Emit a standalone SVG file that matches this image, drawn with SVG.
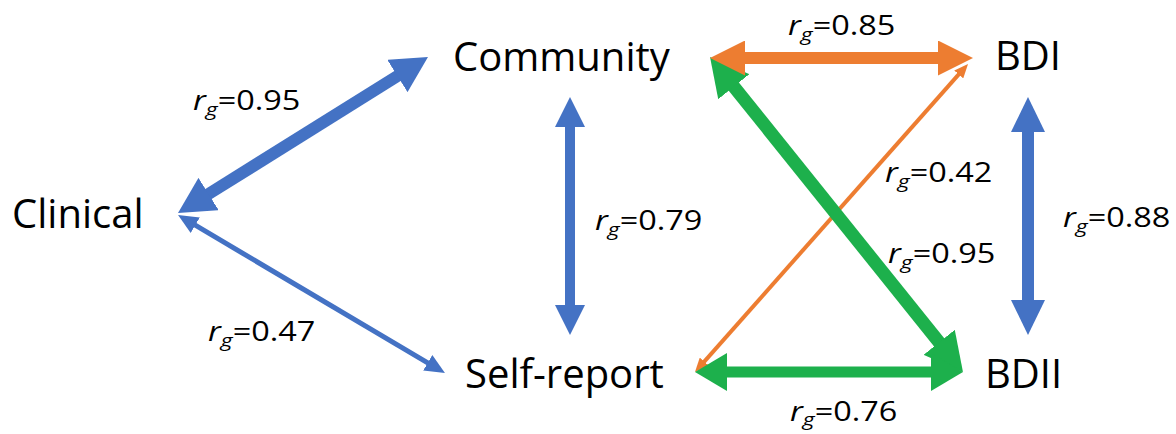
<svg xmlns="http://www.w3.org/2000/svg" width="1176" height="434" viewBox="0 0 1176 434">
<style>
.node{font-family:"Open Sans","Liberation Sans",sans-serif;font-size:40px;fill:#000}
.lbl{font-family:"Open Sans","Liberation Sans",sans-serif;font-size:27px;fill:#000}
.it{font-style:italic}
.blue{stroke:#4472C4;fill:none}
.orange{stroke:#ED7D31;fill:none}
.green{stroke:#1DB04C;fill:none}
</style>
<defs>
<marker id="hBlue36" markerUnits="userSpaceOnUse" viewBox="0 0 36 38" markerWidth="36" markerHeight="38" refX="1" refY="19" orient="auto-start-reverse"><path d="M0,0 L36,19 L0,38 Z" fill="#4472C4"/></marker>
<marker id="hBlue20" markerUnits="userSpaceOnUse" viewBox="0 0 20 18" markerWidth="20" markerHeight="18" refX="1" refY="9" orient="auto-start-reverse"><path d="M0,0 L20,9 L0,18 Z" fill="#4472C4"/></marker>
<marker id="hBlue30" markerUnits="userSpaceOnUse" viewBox="0 0 30 30" markerWidth="30" markerHeight="30" refX="1" refY="15" orient="auto-start-reverse"><path d="M0,0 L30,15 L0,30 Z" fill="#4472C4"/></marker>
<marker id="hBlue35" markerUnits="userSpaceOnUse" viewBox="0 0 35 34" markerWidth="35" markerHeight="34" refX="1" refY="17" orient="auto-start-reverse"><path d="M0,0 L35,17 L0,34 Z" fill="#4472C4"/></marker>
<marker id="hOr35" markerUnits="userSpaceOnUse" viewBox="0 0 35 35" markerWidth="35" markerHeight="35" refX="1" refY="17.5" orient="auto-start-reverse"><path d="M0,0 L35,17.5 L0,35 Z" fill="#ED7D31"/></marker>
<marker id="hOr14" markerUnits="userSpaceOnUse" viewBox="0 0 14 12" markerWidth="14" markerHeight="12" refX="1" refY="6" orient="auto-start-reverse"><path d="M0,0 L14,6 L0,12 Z" fill="#ED7D31"/></marker>
<marker id="hGr38" markerUnits="userSpaceOnUse" viewBox="0 0 38 40" markerWidth="38" markerHeight="40" refX="1" refY="20" orient="auto-start-reverse"><path d="M0,0 L38,20 L0,40 Z" fill="#1DB04C"/></marker>
<marker id="hGr32" markerUnits="userSpaceOnUse" viewBox="0 0 32 38" markerWidth="32" markerHeight="38" refX="1" refY="19" orient="auto-start-reverse"><path d="M0,0 L32,19 L0,38 Z" fill="#1DB04C"/></marker>
</defs>
<g id="connectors">
<line class="blue" stroke-width="12" x1="207.7" y1="194.5" x2="398.3" y2="75.5" marker-start="url(#hBlue36)" marker-end="url(#hBlue36)"/>
<line class="blue" stroke-width="5" x1="194.4" y1="224.7" x2="428.6" y2="363.3" marker-start="url(#hBlue20)" marker-end="url(#hBlue20)"/>
<line class="blue" stroke-width="10" x1="570" y1="126" x2="570" y2="306" marker-start="url(#hBlue30)" marker-end="url(#hBlue30)"/>
<line class="blue" stroke-width="12" x1="1028" y1="131" x2="1028" y2="301" marker-start="url(#hBlue35)" marker-end="url(#hBlue35)"/>
<line class="orange" stroke-width="4" x1="959.4" y1="73.7" x2="703.6" y2="362.3" marker-start="url(#hOr14)" marker-end="url(#hOr14)"/>
<line class="green" stroke-width="13" x1="733.2" y1="85.9" x2="939.8" y2="343.1" marker-start="url(#hGr38)" marker-end="url(#hGr38)"/>
<line class="green" stroke-width="11" x1="726" y1="372" x2="932" y2="372" marker-start="url(#hGr32)" marker-end="url(#hGr32)"/>
<line class="orange" stroke-width="12" x1="744" y1="58" x2="939" y2="58" marker-start="url(#hOr35)" marker-end="url(#hOr35)"/>
</g>
<g id="labels">
<text class="lbl" transform="translate(193,110) scale(1.2,1)"><tspan class="it">r</tspan><tspan class="it" font-size="19" dy="6">g</tspan><tspan dy="-6">=0.95</tspan></text>
<text class="lbl" transform="translate(208,341) scale(1.2,1)"><tspan class="it">r</tspan><tspan class="it" font-size="19" dy="6">g</tspan><tspan dy="-6">=0.47</tspan></text>
<text class="lbl" transform="translate(595,230) scale(1.2,1)"><tspan class="it">r</tspan><tspan class="it" font-size="19" dy="6">g</tspan><tspan dy="-6">=0.79</tspan></text>
<text class="lbl" transform="translate(788,35) scale(1.2,1)"><tspan class="it">r</tspan><tspan class="it" font-size="19" dy="6">g</tspan><tspan dy="-6">=0.85</tspan></text>
<text class="lbl" transform="translate(885,182) scale(1.2,1)"><tspan class="it">r</tspan><tspan class="it" font-size="19" dy="6">g</tspan><tspan dy="-6">=0.42</tspan></text>
<text class="lbl" transform="translate(888,263) scale(1.2,1)"><tspan class="it">r</tspan><tspan class="it" font-size="19" dy="6">g</tspan><tspan dy="-6">=0.95</tspan></text>
<text class="lbl" transform="translate(1063,227) scale(1.2,1)"><tspan class="it">r</tspan><tspan class="it" font-size="19" dy="6">g</tspan><tspan dy="-6">=0.88</tspan></text>
<text class="lbl" transform="translate(790,421) scale(1.2,1)"><tspan class="it">r</tspan><tspan class="it" font-size="19" dy="5">g</tspan><tspan dy="-5">=0.76</tspan></text>
</g>
<g id="clinical"><text class="node" x="12" y="228">Clinical</text></g>
<g id="community"><text class="node" x="453" y="71">Community</text></g>
<g id="self-report"><text class="node" x="465" y="388">Self-report</text></g>
<g id="bdi"><text class="node" x="995" y="70">BDI</text></g>
<g id="bdii"><text class="node" x="985" y="388">BDII</text></g>
</svg>
